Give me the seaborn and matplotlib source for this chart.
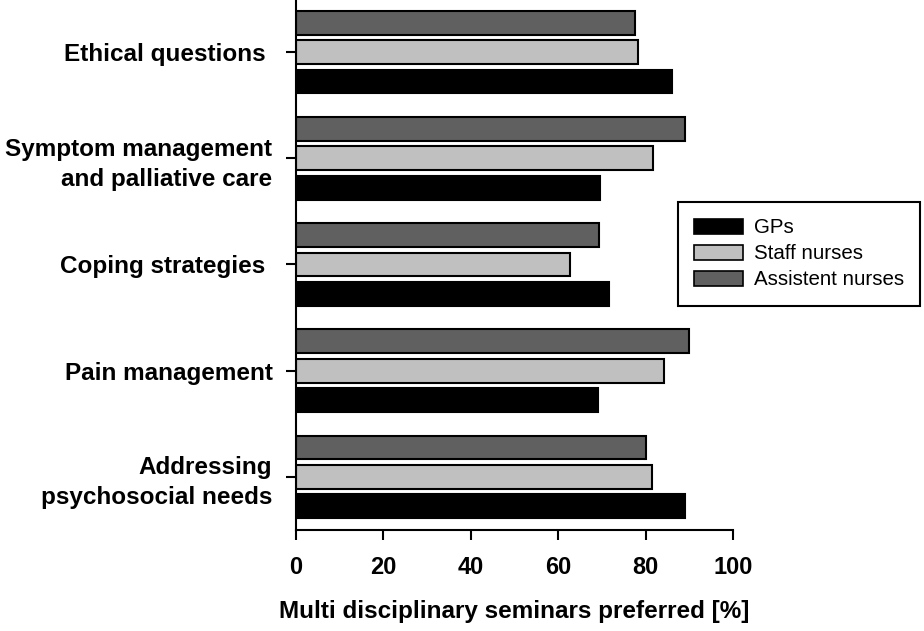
import matplotlib
matplotlib.use("Agg")
import matplotlib.pyplot as plt
from matplotlib.patches import Patch
import seaborn as sns
import pandas as pd

topics = ["Ethical questions ", "Symptom management\nand palliative care",
          "Coping strategies ", "Pain management", "Addressing\npsychosocial needs"]
groups = ["GPs", "Staff nurses", "Assistent nurses"]
gps = [86.1, 69.6, 71.6, 69.2, 89.1]
staff_nurses = [78.2, 81.6, 62.6, 84.2, 81.4]
assistent_nurses = [77.6, 89.0, 69.3, 89.9, 80.2]
colors = {"GPs": "#000000", "Staff nurses": "#c0c0c0", "Assistent nurses": "#606060"}
xticks = [0, 20, 40, 60, 80, 100]
xlabel = "Multi disciplinary seminars preferred [%]"

rows = []
for g, vals in zip(groups, [gps, staff_nurses, assistent_nurses]):
    for t, v in zip(topics, vals):
        rows.append({"topic": t, "group": g, "value": v})
df = pd.DataFrame(rows)

sns.set_style("ticks")
plt.rcParams["font.family"] = ["Liberation Sans", "DejaVu Sans"]
plt.rcParams["text.color"] = "black"
plt.rcParams["axes.labelcolor"] = "black"
plt.rcParams["xtick.color"] = "black"
plt.rcParams["ytick.color"] = "black"

fig = plt.figure(figsize=(9.24, 6.31), dpi=100)
ax = fig.add_axes([296 / 924, 1 - 530 / 631, (733 - 296) / 924, 530 / 631])

sns.barplot(data=df, x="value", y="topic", hue="group",
            order=topics, hue_order=["Assistent nurses", "Staff nurses", "GPs"],
            palette=colors, orient="h", width=0.83, gap=0.19, saturation=1,
            edgecolor="black", linewidth=1.5, legend=False, ax=ax)

ax.set_xlim(0, 100)
ax.set_ylim(4.5, -0.49)
ax.set_xticks(xticks)
ax.set_xticklabels([str(v) for v in xticks], fontsize=17, fontweight="bold", color="black")
ax.set_xlabel(xlabel, fontsize=17.5, fontweight="bold", labelpad=15, color="black")
ax.set_ylabel("")
for lab in ax.get_yticklabels():
    lab.set_fontsize(17.5)
    lab.set_fontweight("bold")
    lab.set_color("black")
    lab.set_multialignment("right")
    lab.set_linespacing(1.38)
ax.tick_params(axis="x", length=7, width=1.5, pad=12, color="black")
ax.tick_params(axis="y", length=7, width=1.5, pad=10, color="black")
for s in ["top", "right"]:
    ax.spines[s].set_visible(False)
for s in ["left", "bottom"]:
    ax.spines[s].set_linewidth(1.5)
    ax.spines[s].set_color("black")

handles = [Patch(facecolor=colors[g], edgecolor="black", linewidth=1.2) for g in groups]
leg = fig.legend(handles, groups, loc="upper left",
                 bbox_to_anchor=(678 / 924, 1 - 202 / 631), bbox_transform=fig.transFigure,
                 borderaxespad=0, fontsize=14.8, frameon=True, fancybox=False,
                 framealpha=1, edgecolor="black", handlelength=2.34, handleheight=0.78,
                 handletextpad=0.55, labelspacing=0.34, borderpad=0.8)
leg.get_frame().set_linewidth(1.5)
for t in leg.get_texts():
    t.set_color("black")

fig.savefig("out.png", dpi=100)
